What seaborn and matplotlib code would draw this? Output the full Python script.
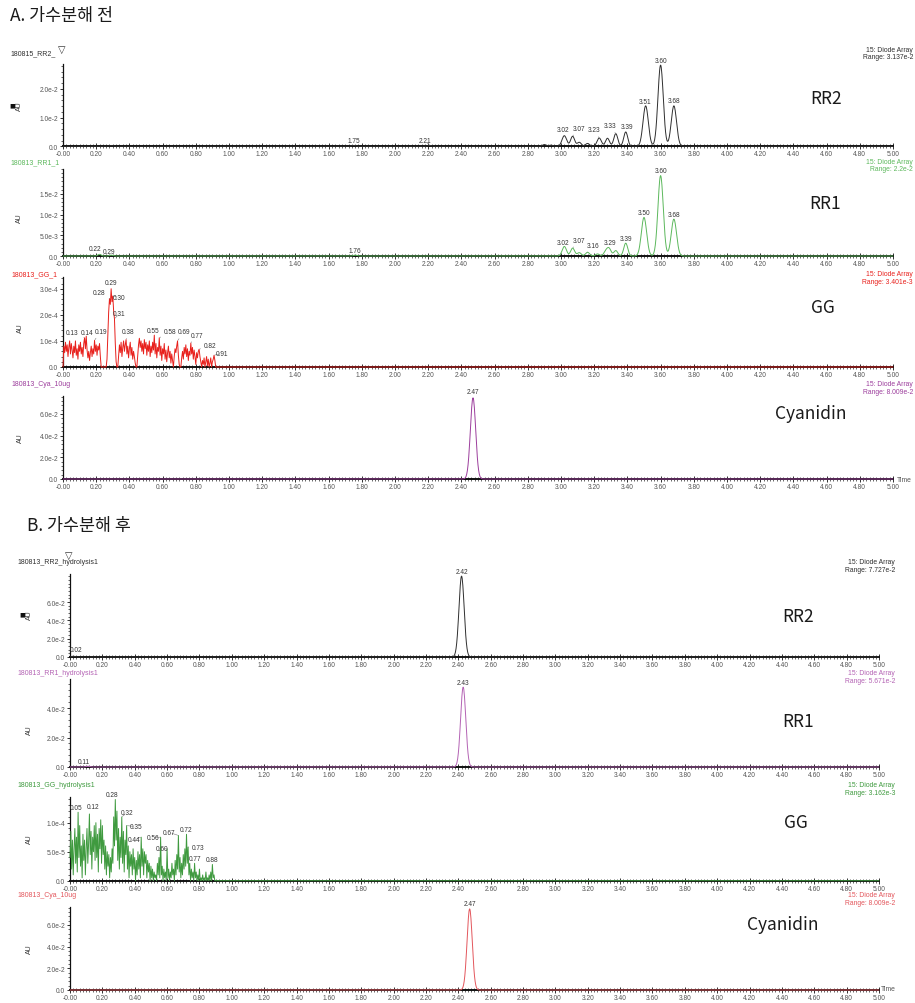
import numpy as np
import pandas as pd
import matplotlib
matplotlib.use("Agg")
import matplotlib.pyplot as plt
from matplotlib.ticker import MultipleLocator, FixedLocator, AutoMinorLocator, FuncFormatter
import seaborn as sns

sns.set_theme(style="white")
plt.rcParams["font.family"] = ["Liberation Sans", "DejaVu Sans"]
KR = ["Noto Sans CJK KR", "DejaVu Sans"]
SYM = ["DejaVu Sans"]

# ---------------------------------------------------------------------------
# Peak tables: retention time (min), apex height (AU), peak sigma (min)
# ---------------------------------------------------------------------------
# A. before hydrolysis
rr2_a_rt = [0.29, 1.75, 2.21, 2.90, 2.94, 3.02, 3.07, 3.11, 3.16, 3.23, 3.28, 3.33, 3.39, 3.51, 3.60, 3.68]
rr2_a_au = [0.0002, 0.0003, 0.0003, 0.0006, 0.0004, 0.0037, 0.0035, 0.0014, 0.0010, 0.0029, 0.0028, 0.0044, 0.0050, 0.0141, 0.0283, 0.0141]
rr2_a_sd = [0.010, 0.010, 0.010, 0.012, 0.012, 0.014, 0.012, 0.012, 0.012, 0.013, 0.012, 0.012, 0.012, 0.016, 0.016, 0.016]
rr2_a_labels = [1.75, 2.21, 3.02, 3.07, 3.23, 3.33, 3.39, 3.51, 3.60, 3.68]

rr1_a_rt = [0.22, 0.29, 1.76, 3.02, 3.07, 3.11, 3.16, 3.22, 3.27, 3.29, 3.33, 3.39, 3.50, 3.60, 3.68]
rr1_a_au = [0.0004, 0.0002, 0.0002, 0.0023, 0.0019, 0.0008, 0.0009, 0.0005, 0.0011, 0.0017, 0.0013, 0.0031, 0.0093, 0.0194, 0.0089]
rr1_a_sd = [0.010, 0.010, 0.010, 0.013, 0.012, 0.012, 0.012, 0.012, 0.012, 0.012, 0.012, 0.012, 0.016, 0.016, 0.016]
rr1_a_labels = [0.22, 0.29, 1.76, 3.02, 3.07, 3.16, 3.29, 3.39, 3.50, 3.60, 3.68]

# cyanidin standard (10 ug), same injection shown in both sections
cya_rt = [2.47]
cya_au = [0.0748]
cya_sd = [0.016]
cya_labels = [2.47]

# B. after hydrolysis
rr2_b_rt = [0.02, 2.42]
rr2_b_au = [0.0008, 0.0884]
rr2_b_sd = [0.010, 0.016]
rr2_b_labels = [0.02, 2.42]

rr1_b_rt = [0.11, 2.43]
rr1_b_au = [0.0005, 0.0542]
rr1_b_sd = [0.010, 0.016]
rr1_b_labels = [0.11, 2.43]

# GG traces: detector signal every 0.005 min from 0.000, in micro-AU
gg_a_uau = [
    0, 80, 55, 95, 60, 85, 40, 75, 100, 50, 90, 65, 35, 80, 55, 100, 45, 70, 30, 85,
    60, 95, 50, 75, 40, 90, 112, 70, 118, 65, 35, 60, 25, 55, 80, 40, 70, 50, 102, 60,
    85, 45, 80, 65, 90, 40, 0, 0, 0, 0, 0, 0, 0, 30, 120, 210, 262, 240, 300, 250,
    272, 215, 185, 90, 20, 0, 0, 45, 85, 55, 95, 40, 75, 100, 60, 85, 105, 50, 80, 35,
    70, 95, 45, 75, 30, 60, 40, 15, 0, 0, 40, 85, 110, 75, 100, 60, 90, 50, 105, 70,
    95, 45, 85, 60, 100, 40, 80, 55, 95, 65, 122, 50, 90, 35, 75, 60, 112, 45, 80, 25,
    70, 50, 90, 30, 65, 20, 55, 80, 35, 60, 15, 50, 25, 0, 40, 70, 55, 80, 100, 45,
    10, 0, 0, 35, 60, 30, 75, 50, 85, 40, 70, 25, 60, 45, 92, 50, 75, 30, 65, 40,
    10, 55, 35, 60, 68, 40, 20, 0, 25, 10, 35, 0, 20, 40, 5, 30, 0, 15, 35, 0,
    20, 30, 45, 25, 0,
]
gg_a_labels = [0.13, 0.14, 0.19, 0.28, 0.29, 0.30, 0.31, 0.38, 0.55, 0.58, 0.69, 0.77, 0.82, 0.91]

gg_b_uau = [
    40, 85, 20, 70, 10, 55, 90, 30, 75, 15, 118, 40, 95, 25, 60, 5, 80, 35, 70, 10,
    55, 90, 30, 65, 115, 45, 85, 20, 75, 50, 95, 35, 100, 40, 80, 15, 90, 55, 105, 30,
    95, 45, 70, 20, 60, 10, 50, 25, 45, 5, 40, 15, 55, 30, 110, 60, 140, 70, 120, 35,
    90, 20, 75, 40, 110, 30, 85, 15, 70, 45, 95, 20, 60, 5, 50, 25, 45, 10, 55, 20,
    40, 0, 35, 10, 50, 20, 45, 5, 75, 25, 55, 10, 50, 30, 45, 5, 35, 15, 30, 0,
    25, 5, 20, 0, 15, 5, 10, 0, 30, 10, 40, 5, 75, 10, 25, 0, 20, 5, 15, 0,
    55, 5, 20, 0, 15, 5, 30, 10, 20, 0, 35, 10, 45, 20, 78, 15, 40, 5, 30, 10,
    45, 20, 55, 25, 80, 30, 58, 10, 30, 0, 20, 5, 15, 0, 30, 5, 15, 0, 10, 0,
    20, 0, 5, 0, 10, 0, 5, 0, 15, 0, 5, 0, 10, 0, 15, 0, 28, 5, 10, 0,
    0,
]
gg_b_labels = [0.05, 0.12, 0.28, 0.32, 0.35, 0.44, 0.56, 0.60, 0.67, 0.72, 0.73, 0.77, 0.88]

x_tick_step = 0.2

# ---------------------------------------------------------------------------
W, H = 915, 1004
fig = plt.figure(figsize=(W / 100, H / 100), dpi=100)
fig.patch.set_facecolor("white")

time_grid = np.round(np.arange(0, 5.0 + 0.001, 0.002), 4)


def peak_trace(rts, heights, sigmas):
    y = np.zeros_like(time_grid)
    for rt, h, s in zip(rts, heights, sigmas):
        y += h * np.exp(-0.5 * ((time_grid - rt) / s) ** 2)
    return pd.DataFrame({"time": time_grid, "au": y})


def sampled_trace(values_uau, step=0.005):
    t = np.round(np.arange(len(values_uau)) * step, 4)
    y = np.asarray(values_uau, float) * 1e-6
    return pd.DataFrame({"time": np.append(t, 5.0), "au": np.append(y, 0.0)})


def sci_fmt(v, pos):
    if abs(v) < 1e-12:
        return "0.0"
    m, e = f"{v:.1e}".split("e")
    return f"{m}e{int(e)}"


def time_fmt(v, pos):
    return "-0.00" if abs(v) < 1e-9 else f"{v:.2f}"


def ftext(x, y, s, **kw):
    fig.text(x / W, 1 - y / H, s, **kw)


panels = [
    dict(df=peak_trace(rr2_a_rt, rr2_a_au, rr2_a_sd), labels=rr2_a_labels, color="#2e2e2e",
         name="180815_RR2_", rng="3.137e-2", big="RR2", box=(63, 893, 65, 147.3), ymax=0.02868,
         ymaj=1e-2, ytop=2e-2, name_xy=(10, 54), rng_x=913, rng_y=(51, 58), big_xy=(826, 99), au_xy=(19, 106),
         mark=True, tri=(62, 50),
         offs={1.75: (0, 5), 2.21: (-5, 5), 3.02: (-1, 6), 3.07: (6, 8), 3.23: (-5, 8),
               3.33: (-6, 8), 3.39: (1, 5), 3.51: (-1, 4)}),
    dict(df=peak_trace(rr1_a_rt, rr1_a_au, rr1_a_sd), labels=rr1_a_labels, color="#5cb85c",
         name="180813_RR1_1", rng="2.2e-2", big="RR1", box=(63, 893, 170, 257), ymax=0.0210,
         ymaj=5e-3, ytop=1.5e-2, name_xy=(10, 163), rng_x=913, rng_y=(163, 170), big_xy=(825, 204),
         au_xy=(19, 218), mark=False, tri=None,
         offs={0.22: (-4, 6), 0.29: (-2, 4), 3.02: (-1, 4), 3.07: (6, 8), 3.16: (6, 7), 3.29: (1, 5)}),
    dict(df=sampled_trace(gg_a_uau), labels=gg_a_labels, color="#e8201c",
         name="180813_GG_1", rng="3.401e-3", big="GG", box=(63, 893, 278, 368), ymax=3.45e-4,
         ymaj=1e-4, ytop=3e-4, name_xy=(11, 275), rng_x=913, rng_y=(274, 282.5), big_xy=(823, 308),
         au_xy=(20, 328), mark=False, tri=None,
         offs={0.13: (-13, 5), 0.14: (1, 4), 0.19: (6, 9), 0.28: (-10, 6), 0.29: (0, 6),
               0.30: (6, -1), 0.31: (5, 5), 0.38: (2, 8), 0.55: (-1, 5), 0.58: (11, 6),
               0.69: (6, 9), 0.77: (6, 8), 0.82: (11, 4), 0.91: (8, 2)}),
    dict(df=peak_trace(cya_rt, cya_au, cya_sd), labels=cya_labels, color="#9c3d9c",
         name="180813_Cya_10ug", rng="8.009e-2", big="Cyanidin", box=(63, 893, 397, 480), ymax=0.0765,
         ymaj=2e-2, ytop=6e-2, name_xy=(11, 385), rng_x=913, rng_y=(385, 393), big_xy=(811, 414),
         au_xy=(20, 438), mark=False, tri=None, offs={2.47: (0, 6)}, time=(897, 480)),
    dict(df=peak_trace(rr2_b_rt, rr2_b_au, rr2_b_sd), labels=rr2_b_labels, color="#2e2e2e",
         name="180813_RR2_hydrolysis1", rng="7.727e-2", big="RR2", box=(70, 879, 575, 658), ymax=0.0907,
         ymaj=2e-2, ytop=6e-2, name_xy=(17, 563), rng_x=895, rng_y=(563, 571), big_xy=(798, 617),
         au_xy=(29, 615), mark=True, tri=(69, 556), offs={0.02: (3, 7)}),
    dict(df=peak_trace(rr1_b_rt, rr1_b_au, rr1_b_sd), labels=rr1_b_labels, color="#b463b4",
         name="180813_RR1_hydrolysis1", rng="5.671e-2", big="RR1", box=(70, 879, 680, 768), ymax=0.0597,
         ymaj=2e-2, ytop=4e-2, name_xy=(17, 674), rng_x=895, rng_y=(674, 682), big_xy=(798, 722),
         au_xy=(29, 730), mark=False, tri=None, offs={0.11: (-4, 5)}),
    dict(df=sampled_trace(gg_b_uau), labels=gg_b_labels, color="#3f9a3f",
         name="180813_GG_hydrolysis1", rng="3.162e-3", big="GG", box=(70, 879, 798, 881.7), ymax=1.443e-4,
         ymaj=5e-5, ytop=1e-4, name_xy=(17, 786), rng_x=895, rng_y=(786, 794), big_xy=(796, 823),
         au_xy=(29, 839), mark=False, tri=None,
         offs={0.05: (-2, 5), 0.12: (4, 7), 0.28: (-3, 5), 0.32: (5, 4), 0.35: (9, -1),
               0.44: (-7, -2), 0.56: (-8, 0), 0.60: (-5, 0), 0.67: (-9, 3), 0.72: (0, 5),
               0.73: (10, 0), 0.77: (0, 5), 0.88: (0, 5)}),
    dict(df=peak_trace(cya_rt, cya_au, cya_sd), labels=cya_labels, color="#e3565c",
         name="180813_Cya_10ug", rng="8.009e-2", big="Cyanidin", box=(70, 879, 908, 991), ymax=0.0765,
         ymaj=2e-2, ytop=6e-2, name_xy=(17, 896), rng_x=895, rng_y=(896, 904), big_xy=(783, 925),
         au_xy=(29, 949), mark=False, tri=None, offs={2.47: (0, 5)}, time=(881, 990)),
]

for p in panels:
    left, right, top, bottom = p["box"]
    ax = fig.add_axes([left / W, 1 - bottom / H, (right - left) / W, (bottom - top) / H])
    ax.set_facecolor("none")
    df = p["df"]
    sns.lineplot(data=df, x="time", y="au", ax=ax, color=p["color"], linewidth=0.7,
                 estimator=None, sort=False, clip_on=False, zorder=3)
    ax.set_xlim(0, 5)
    ax.set_ylim(0, p["ymax"])
    ax.set_xlabel("")
    ax.set_ylabel("")

    for s in ("top", "right"):
        ax.spines[s].set_visible(False)
    ax.spines["left"].set_linewidth(0.9)
    ax.spines["left"].set_color("#111111")
    ax.spines["bottom"].set_linewidth(1.4)
    ax.spines["bottom"].set_color("#111111")

    ax.xaxis.set_major_locator(MultipleLocator(x_tick_step))
    ax.xaxis.set_minor_locator(MultipleLocator(0.02))
    ax.xaxis.set_major_formatter(FuncFormatter(time_fmt))
    n_major = int(round(p["ytop"] / p["ymaj"]))
    ax.yaxis.set_major_locator(FixedLocator([k * p["ymaj"] for k in range(n_major + 1)]))
    ax.yaxis.set_minor_locator(MultipleLocator(p["ymaj"] / 5))
    ax.yaxis.set_major_formatter(FuncFormatter(sci_fmt))
    ax.tick_params(axis="x", which="major", direction="inout", length=4, width=0.6,
                   color="#111111", labelsize=4.8, labelcolor="#555555", pad=0.8, bottom=True)
    ax.tick_params(axis="x", which="minor", direction="inout", length=2.4, width=0.45,
                   color="#111111", bottom=True)
    ax.tick_params(axis="y", which="major", direction="out", length=2.4, width=0.6,
                   color="#111111", labelsize=4.8, labelcolor="#555555", pad=1, left=True)
    ax.tick_params(axis="y", which="minor", direction="out", length=1.3, width=0.45,
                   color="#111111", left=True)

    # retention-time labels on the peaks
    for t in p["labels"]:
        yv = float(np.interp(t, df["time"], df["au"]))
        dx, dy = p["offs"].get(t, (0, 5))
        arrow = None
        if abs(dx) >= 5 or dy >= 8:
            arrow = dict(arrowstyle="-", lw=0.4, color="#777777", shrinkA=2, shrinkB=0.5)
        ax.annotate(f"{t:.2f}", xy=(t, yv), xytext=(dx, dy), textcoords="offset pixels",
                    ha="center", va="center", fontsize=4.7, color="#333333",
                    arrowprops=arrow, annotation_clip=False, zorder=5)

    # sample name, detector info and compound label
    ftext(p["name_xy"][0], p["name_xy"][1], p["name"], ha="left", va="center",
          fontsize=5, color=p["color"])
    ftext(p["rng_x"], p["rng_y"][0], "15: Diode Array", ha="right", va="center",
          fontsize=4.9, color=p["color"])
    ftext(p["rng_x"], p["rng_y"][1], "Range: " + p["rng"], ha="right", va="center",
          fontsize=4.9, color=p["color"])
    ftext(p["big_xy"][0], p["big_xy"][1], p["big"], ha="center", va="center",
          fontsize=12.5, color="#1a1a1a", family=KR)
    ftext(p["au_xy"][0], p["au_xy"][1], "AU", ha="center", va="center", rotation=90,
          fontsize=5, color="#333333")
    if p["mark"]:
        ftext(p["au_xy"][0] - 6.5, p["au_xy"][1], "\u25a0", ha="center", va="center",
              fontsize=4.5, color="#111111", family=SYM)
    if p["tri"] is not None:
        ftext(p["tri"][0], p["tri"][1], "\u25bd", ha="center", va="center",
              fontsize=7, color="#333333", family=SYM)
    if "time" in p:
        ftext(p["time"][0], p["time"][1], "Time", ha="left", va="center",
              fontsize=4.9, color="#555555")

ftext(10, 16, "A. 가수분해 전", ha="left", va="center", fontsize=12.5, color="#1a1a1a", family=KR)
ftext(27, 526, "B. 가수분해 후", ha="left", va="center", fontsize=12.5, color="#1a1a1a", family=KR)

fig.savefig("out.png", dpi=100, facecolor="white")
